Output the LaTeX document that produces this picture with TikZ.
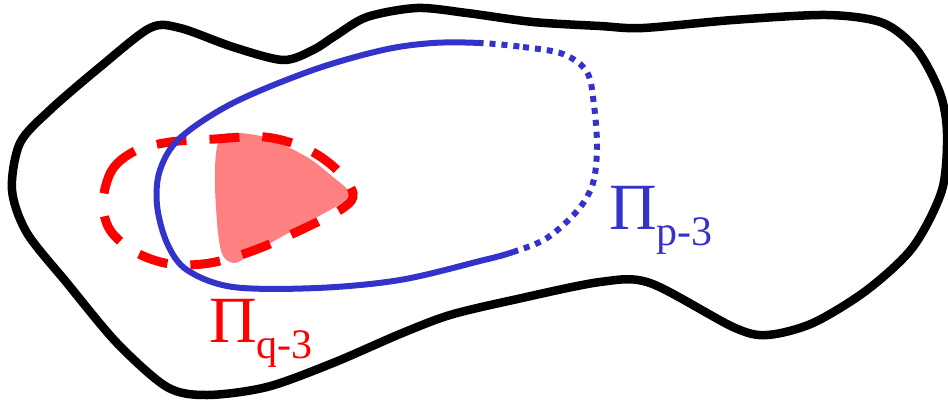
\documentclass[tikz,border=0pt]{standalone}
\usepackage{fontspec}
\setmainfont{Liberation Serif}
\definecolor{pblue}{RGB}{51,51,204}
\definecolor{pred}{RGB}{255,0,0}
\definecolor{ppink}{RGB}{255,128,128}
\begin{document}
\begin{tikzpicture}[x=1pt,y=-1pt,
  outer/.style={draw=black,line width=8.5pt,line join=round},
  bluepath/.style={draw=pblue,line width=6pt},
  reddash/.style={draw=pred,line width=9pt,dash pattern=on 30pt off 23pt},
  pinkfill/.style={fill=ppink,draw=none},
  biglabel/.style={anchor=base west,inner sep=0pt,font=\fontsize{66}{66}\selectfont}]
\useasboundingbox (0,0) rectangle (948,400);
% outer region
\draw[outer] plot[smooth cycle,tension=0.5] coordinates{
 (12,190) (20,143) (50,110) (100,67) (150,28) (180,28) (233,47) (283,60) (313,50)
 (335,36) (367,17) (417,8) (467,13) (533,22) (600,26) (643,28) (733,20) (827,15)
 (883,23) (917,50) (940,93) (947,133) (942,190) (913,247) (867,290) (813,323)
 (767,335) (733,327) (650,283) (600,282) (513,300) (450,315) (400,334) (333,363)
 (267,387) (207,395) (167,387) (117,343) (67,283) (27,233)};
% pink region
\fill[pinkfill] plot[smooth cycle,tension=0.5] coordinates{
 (222,135) (240,133) (267,138) (307,157) (333,177) (349,192) (340,204) (297,228)
 (253,253) (235,263) (223,256) (218,233) (215,187) (216,153)};
% red dashed curve
\draw[reddash] plot[smooth cycle,tension=0.55] coordinates{
 (103,202) (112,170) (135,151) (170,142) (215,139) (265,137) (305,148) (335,168)
 (353,193) (343,208) (305,228) (255,250) (210,263) (170,264) (135,252) (110,230)};
% blue curve
\begin{scope}
\clip (0,0) -- (483,0) -- (483,43) -- (513,252) -- (513,400) -- (0,400) -- cycle;
\draw[bluepath] plot[smooth cycle,tension=0.55] coordinates{
 (480,43) (523,47) (563,54) (587,72) (594,105) (597,147) (593,183) (578,210)
 (547,238) (513,252) (480,261) (400,280) (317,288) (233,287) (187,270) (167,243)
 (157,205) (160,170) (180,138) (233,103) (313,70) (383,50) (433,43)};
\end{scope}
\begin{scope}
\clip (483,0) -- (483,43) -- (513,252) -- (513,400) -- (948,400) -- (948,0) -- cycle;
\draw[bluepath,dash pattern=on 6pt off 6pt] plot[smooth cycle,tension=0.55] coordinates{
 (480,43) (523,47) (563,54) (587,72) (594,105) (597,147) (593,183) (578,210)
 (547,238) (513,252) (480,261) (400,280) (317,288) (233,287) (187,270) (167,243)
 (157,205) (160,170) (180,138) (233,103) (313,70) (383,50) (433,43)};
\end{scope}
% labels
\node[biglabel,text=pred] (lq) at (209,342) {Π\raisebox{-16pt}{\fontsize{42}{42}\selectfont q-3}};
\node[biglabel,text=pblue] (lp) at (609,229) {Π\raisebox{-16pt}{\fontsize{42}{42}\selectfont p-3}};
\end{tikzpicture}
\end{document}
